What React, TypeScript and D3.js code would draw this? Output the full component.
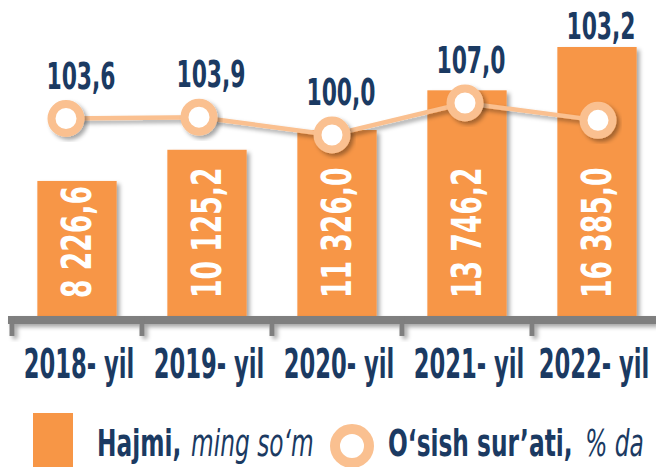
import React, { useEffect, useRef } from 'react';
import * as d3 from 'd3';

const years = ['2018- yil', '2019- yil', '2020- yil', '2021- yil', '2022- yil'];
const volume = [8226.6, 10125.2, 11326.0, 13746.2, 16385.0];
const volumeLabels = ['8 226,6', '10 125,2', '11 326,0', '13 746,2', '16 385,0'];
const growth = [103.6, 103.9, 100.0, 107.0, 103.2];
const growthLabels = ['103,6', '103,9', '100,0', '107,0', '103,2'];

const W = 656;
const H = 467;
const FONT = "'DejaVu Sans Condensed', 'DejaVu Sans', sans-serif";
const NAVY = '#1b3a62';
const ORANGE = '#f79646';
const PEACH = '#fac090';

const App = () => {
  const svgRef = useRef(null);

  useEffect(() => {
    const svg = d3.select(svgRef.current);
    svg.selectAll('*').remove();

    const defs = svg.append('defs');
    const f = defs.append('filter').attr('id', 'shadow')
      .attr('x', '-20%').attr('y', '-20%').attr('width', '150%').attr('height', '150%');
    f.append('feDropShadow').attr('dx', 3).attr('dy', 3).attr('stdDeviation', 2)
      .attr('flood-color', '#000').attr('flood-opacity', 0.35);

    const baseY = 316;
    const x = d3.scaleBand().domain(years).range([12, 662]).paddingInner(0.39).paddingOuter(0.195);
    const y = d3.scaleLinear().domain([0, 16385]).range([baseY, 47]);

    // line uses its own positions (slightly offset from bars, like the original)
    const xl = d3.scalePoint().domain(years).range([66, 598]);
    const yl = d3.scaleLinear().domain([100, 107]).range([135, 103]);

    // bars
    svg.append('g').selectAll('rect').data(volume).join('rect')
      .attr('x', (d, i) => x(years[i]))
      .attr('y', d => y(d))
      .attr('width', x.bandwidth())
      .attr('height', d => baseY - y(d))
      .attr('fill', ORANGE)
      .attr('filter', 'url(#shadow)');

    // value labels inside bars (condensed by horizontal scaling)
    svg.append('g').selectAll('text').data(volumeLabels).join('text')
      .attr('transform', (d, i) => `translate(${x(years[i]) + x.bandwidth() / 2 + 14},${baseY - 18}) rotate(-90) scale(0.74,1)`)
      .attr('fill', '#fff')
      .attr('font-family', FONT)
      .attr('font-weight', 'bold')
      .attr('font-size', 40)
      .text(d => d);

    // axis
    const step = x.step();
    const axis = svg.append('g').attr('filter', 'url(#shadow)');
    axis.append('rect').attr('x', 8).attr('y', baseY).attr('width', W - 8).attr('height', 8).attr('fill', '#7f7f7f');
    const bounds = years.map(yr => x(yr) - (step - x.bandwidth()) / 2).concat([x(years[4]) + x.bandwidth() + (step - x.bandwidth()) / 2]);
    axis.selectAll('.tk').data(bounds).join('rect')
      .attr('x', d => Math.max(8, d - 2.5))
      .attr('y', baseY)
      .attr('width', 5)
      .attr('height', 20)
      .attr('fill', '#7f7f7f');

    svg.append('g').selectAll('text').data(years).join('text')
      .attr('transform', (d, i) => `translate(${x(d) + x.bandwidth() / 2 + (i === 4 ? -3 : 2)},378) scale(0.63,1)`)
      .attr('text-anchor', 'middle')
      .attr('fill', NAVY)
      .attr('font-family', FONT)
      .attr('font-weight', 'bold')
      .attr('font-size', 40)
      .text(d => d);

    // growth line
    const line = d3.line().x((d, i) => xl(years[i])).y(d => yl(d));
    svg.append('path').datum(growth)
      .attr('d', line)
      .attr('fill', 'none')
      .attr('stroke', PEACH)
      .attr('stroke-width', 4.5)
      .attr('filter', 'url(#shadow)');

    svg.append('g').selectAll('circle').data(growth).join('circle')
      .attr('cx', (d, i) => xl(years[i]))
      .attr('cy', d => yl(d))
      .attr('r', 14.5)
      .attr('fill', '#fff')
      .attr('stroke', PEACH)
      .attr('stroke-width', 8)
      .attr('filter', 'url(#shadow)');

    svg.append('g').selectAll('text').data(growthLabels).join('text')
      .attr('transform', (d, i) => `translate(${x(years[i]) + x.bandwidth() / 2 + 4},${Math.min(yl(growth[i]) - 30, y(volume[i]) - 8)}) scale(0.64,1)`)
      .attr('text-anchor', 'middle')
      .attr('fill', NAVY)
      .attr('font-family', FONT)
      .attr('font-weight', 'bold')
      .attr('font-size', 38)
      .text(d => d);

    // legend
    const lg = svg.append('g');
    lg.append('rect').attr('x', 33).attr('y', 413).attr('width', 40).attr('height', 60).attr('fill', ORANGE);
    const t1 = lg.append('text').attr('transform', 'translate(97,456) scale(0.7,1)')
      .attr('font-family', FONT).attr('fill', NAVY).attr('font-size', 37);
    t1.append('tspan').attr('font-weight', 'bold').text('Hajmi,');
    t1.append('tspan').attr('font-style', 'italic').attr('dx', 14).text('ming so‘m');

    lg.append('circle').attr('cx', 352).attr('cy', 446).attr('r', 17)
      .attr('fill', '#fff').attr('stroke', PEACH).attr('stroke-width', 10);
    const t2 = lg.append('text').attr('transform', 'translate(388,456) scale(0.7,1)')
      .attr('font-family', FONT).attr('fill', NAVY).attr('font-size', 37);
    t2.append('tspan').attr('font-weight', 'bold').text('O‘sish sur’ati,');
    t2.append('tspan').attr('font-style', 'italic').attr('dx', 18).text('% da');
  }, []);

  return (
    <div>
      <svg ref={svgRef} width={W} height={H} style={{ position: 'absolute', left: 0, top: 0, background: '#fff' }} />
    </div>
  );
};

export default App;
